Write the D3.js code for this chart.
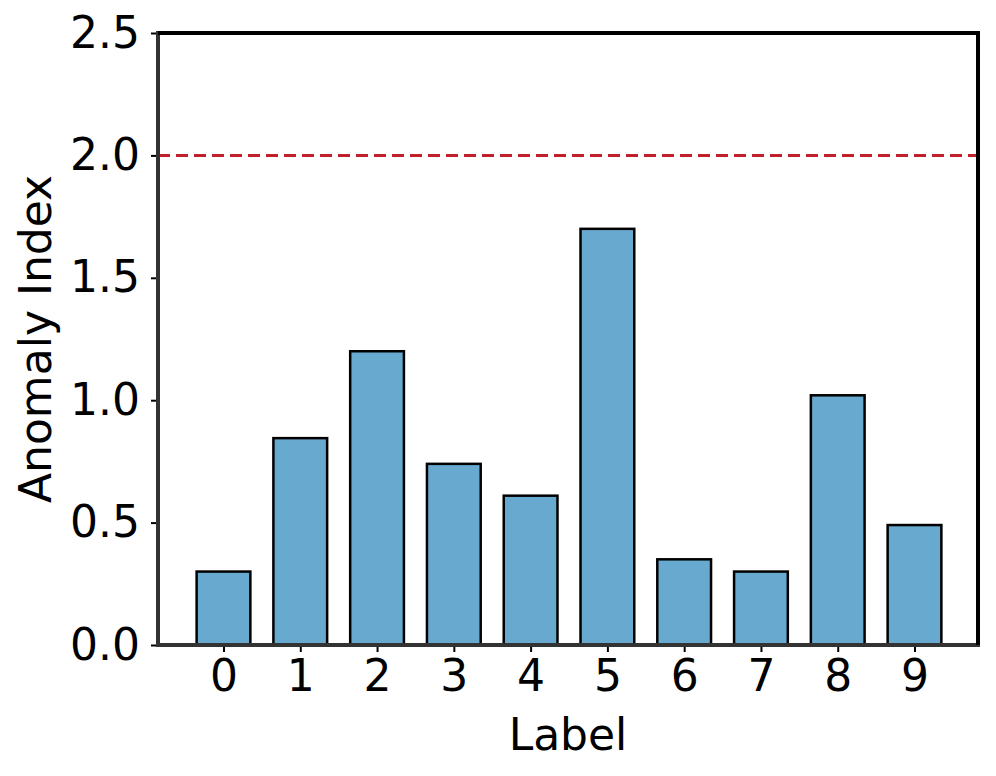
<!DOCTYPE html>
<html>
<head>
<meta charset="utf-8">
<script src="https://cdn.jsdelivr.net/npm/d3@7"></script>
<style>
  body { margin: 0; background: #fff; }
  svg { font-family: "DejaVu Sans", sans-serif; }
</style>
</head>
<body>
<svg width="996" height="776"></svg>
<script>
// data
const labels = ["0","1","2","3","4","5","6","7","8","9"];
const anomaly = [0.30, 0.845, 1.20, 0.74, 0.61, 1.70, 0.35, 0.30, 1.02, 0.49];
const yTicks = [0, 0.5, 1.0, 1.5, 2.0, 2.5];
const threshold = 2.0;

const svg = d3.select("svg");
const mLeft = 158, mRight = 978, mTop = 33, mBottom = 645;

const x = d3.scaleLinear().domain([-0.84, 9.84]).range([mLeft, mRight]);
const y = d3.scaleLinear().domain([0, 2.5]).range([mBottom, mTop]);
const barW = x(0.7) - x(0);

// bars
svg.selectAll(".barre")
    .data(anomaly)
    .join("rect")
    .attr("class", "barre")
    .attr("x", (d, i) => x(i) - barW / 2 + 1)
    .attr("y", d => y(d))
    .attr("width", barW)
    .attr("height", d => y(0) - y(d))
    .style("fill", "#67a9cf")
    .style("stroke", "#000")
    .style("stroke-width", 2.5);

// threshold line
svg.append("line")
    .attr("x1", mLeft).attr("x2", mRight)
    .attr("y1", y(threshold)).attr("y2", y(threshold))
    .style("stroke", "#c0202a")
    .style("stroke-width", 3)
    .style("stroke-dasharray", "12,6");

// axes
const yAxis = svg.append("g")
    .attr("transform", `translate(${mLeft},0)`)
    .call(d3.axisLeft(y).tickValues(yTicks).tickFormat(d3.format(".1f")).tickSize(7).tickPadding(11));
const xAxis = svg.append("g")
    .attr("transform", `translate(1,${mBottom})`)
    .call(d3.axisBottom(x).tickValues(d3.range(labels.length)).tickFormat(i => labels[i]).tickSize(7).tickPadding(8));

[yAxis, xAxis].forEach(g => {
    g.select(".domain").remove();
    g.selectAll(".tick line").style("stroke", "#000").style("stroke-width", 2);
    g.selectAll(".tick text").style("font-size", "44px").style("fill", "#000")
        .style("font-family", "DejaVu Sans");
});

// spines
svg.append("line").attr("x1", mLeft).attr("x2", mLeft).attr("y1", mTop - 2).attr("y2", mBottom + 2)
    .style("stroke", "#333").style("stroke-width", 4);
svg.append("line").attr("x1", mLeft - 2).attr("x2", mRight + 2).attr("y1", mBottom).attr("y2", mBottom)
    .style("stroke", "#333").style("stroke-width", 4);
svg.append("line").attr("x1", mLeft).attr("x2", mRight + 2).attr("y1", mTop).attr("y2", mTop)
    .style("stroke", "#000").style("stroke-width", 4);
svg.append("line").attr("x1", mRight).attr("x2", mRight).attr("y1", mTop).attr("y2", mBottom)
    .style("stroke", "#000").style("stroke-width", 4);

// axis titles
svg.append("text")
    .text("Label")
    .attr("x", (mLeft + mRight) / 2)
    .attr("y", 750)
    .attr("text-anchor", "middle")
    .style("font-size", "44px");

svg.append("text")
    .text("Anomaly Index")
    .attr("transform", `translate(51,${(mTop + mBottom) / 2}) rotate(-90)`)
    .attr("text-anchor", "middle")
    .style("font-size", "44px");
</script>
</body>
</html>
